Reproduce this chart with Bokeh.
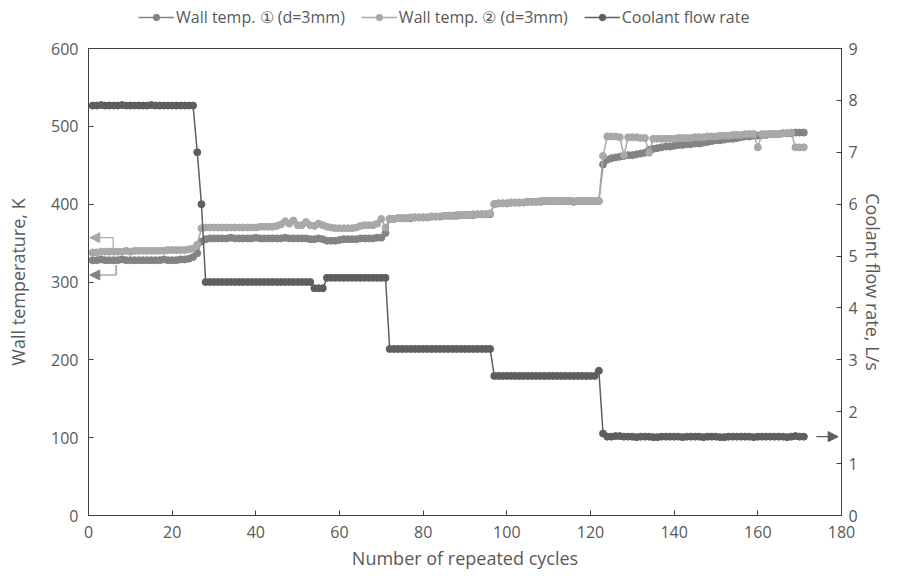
from bokeh.plotting import figure
from bokeh.layouts import column
from bokeh.models import (Range1d, LinearAxis, Legend, LegendItem, Arrow,
                          NormalHead, FixedTicker)
from bokeh.embed import file_html
from bokeh.resources import INLINE

# ---------------- data ----------------
cycles = list(range(1, 172))

wall_temp_1 = [
    328, 328, 329, 328, 328, 328, 328, 329, 328, 328,
    328, 328, 328, 328, 328, 328, 328, 329, 328, 328,
    328, 329, 329, 330, 332, 337, 352, 355, 356, 356,
    356, 356, 356, 357, 356, 356, 356, 356, 356, 357,
    356, 356, 356, 356, 356, 356, 357, 356, 356, 356,
    356, 356, 355, 355, 356, 355, 353, 353, 353, 354,
    355, 355, 355, 355, 356, 356, 356, 356, 357, 357,
    363, 381, 381, 382, 382, 382, 382, 383, 383, 383,
    383, 384, 384, 384, 385, 385, 385, 385, 386, 386,
    386, 386, 387, 387, 387, 387, 400, 401, 401, 401,
    402, 402, 402, 402, 403, 403, 403, 403, 404, 404,
    404, 404, 404, 404, 404, 403, 404, 404, 404, 404,
    404, 404, 451, 457, 459, 460, 461, 462, 463, 463,
    464, 465, 466, 470, 471, 472, 473, 474, 474, 475,
    476, 476, 477, 477, 478, 478, 479, 480, 481, 482,
    482, 483, 484, 484, 485, 486, 487, 487, 488, 488,
    489, 489, 490, 490, 490, 491, 491, 491, 492, 492,
    492,
]

wall_temp_2 = [
    338, 338, 339, 339, 339, 339, 339, 339, 340, 339,
    340, 340, 340, 340, 340, 340, 340, 340, 341, 341,
    341, 341, 341, 342, 343, 348, 369, 370, 370, 370,
    370, 370, 370, 370, 370, 370, 370, 370, 370, 370,
    371, 371, 371, 371, 372, 374, 378, 375, 379, 373,
    373, 377, 373, 372, 375, 373, 371, 370, 369, 369,
    369, 369, 369, 370, 372, 373, 373, 373, 375, 381,
    370, 381, 381, 382, 382, 382, 383, 383, 383, 383,
    383, 384, 384, 384, 385, 385, 385, 386, 386, 386,
    386, 387, 387, 387, 387, 388, 400, 401, 401, 401,
    402, 402, 402, 402, 403, 403, 403, 404, 404, 404,
    404, 404, 404, 404, 404, 404, 404, 404, 404, 404,
    404, 404, 462, 487, 487, 487, 486, 463, 486, 486,
    486, 485, 485, 466, 484, 484, 484, 484, 484, 484,
    485, 485, 485, 485, 486, 486, 486, 487, 487, 487,
    488, 488, 488, 489, 489, 489, 490, 490, 490, 473,
    490, 490, 490, 490, 490, 491, 491, 492, 473, 473,
    473,
]

coolant_flow = [
    7.90, 7.90, 7.91, 7.90, 7.90, 7.90, 7.90, 7.91, 7.90, 7.90,
    7.90, 7.90, 7.90, 7.90, 7.91, 7.90, 7.90, 7.90, 7.90, 7.90,
    7.90, 7.90, 7.90, 7.90, 7.90, 7.00, 6.00, 4.50, 4.50, 4.50,
    4.50, 4.50, 4.50, 4.50, 4.50, 4.50, 4.50, 4.50, 4.50, 4.50,
    4.50, 4.50, 4.50, 4.50, 4.50, 4.50, 4.50, 4.50, 4.50, 4.50,
    4.50, 4.50, 4.50, 4.38, 4.38, 4.38, 4.58, 4.58, 4.58, 4.58,
    4.58, 4.58, 4.58, 4.58, 4.58, 4.58, 4.58, 4.58, 4.58, 4.58,
    4.58, 3.21, 3.21, 3.21, 3.21, 3.21, 3.21, 3.21, 3.21, 3.21,
    3.21, 3.21, 3.21, 3.21, 3.21, 3.21, 3.21, 3.21, 3.21, 3.21,
    3.21, 3.21, 3.21, 3.21, 3.21, 3.21, 2.69, 2.69, 2.69, 2.69,
    2.69, 2.69, 2.69, 2.69, 2.69, 2.69, 2.69, 2.69, 2.69, 2.69,
    2.69, 2.69, 2.69, 2.69, 2.69, 2.69, 2.69, 2.69, 2.69, 2.69,
    2.69, 2.79, 1.58, 1.52, 1.52, 1.53, 1.53, 1.52, 1.52, 1.52,
    1.51, 1.52, 1.52, 1.52, 1.51, 1.51, 1.52, 1.52, 1.52, 1.52,
    1.52, 1.51, 1.52, 1.52, 1.52, 1.52, 1.51, 1.52, 1.52, 1.52,
    1.51, 1.51, 1.52, 1.52, 1.52, 1.52, 1.52, 1.52, 1.51, 1.52,
    1.52, 1.52, 1.52, 1.52, 1.52, 1.52, 1.51, 1.52, 1.53, 1.52,
    1.52,
]

x_ticks = [0, 20, 40, 60, 80, 100, 120, 140, 160, 180]
temp_ticks = [0, 100, 200, 300, 400, 500, 600]
flow_ticks = [0, 1, 2, 3, 4, 5, 6, 7, 8, 9]

labels = ["Wall temp. \u2460 (d=3mm)", "Wall temp. \u2461 (d=3mm)", "Coolant flow rate"]

# ---------------- style ----------------
FONT = "Open Sans"
C1 = "#838383"
C2 = "#a8a8a8"
C3 = "#5e5e5e"
AX = "#404040"
TXT = "#595959"
W = 887

# ---------------- legend strip (separate small figure, frame aligned with chart) ----
leg = figure(width=W, height=30, output_backend="svg", toolbar_location=None,
             x_range=Range1d(0, 1), y_range=Range1d(0, 1),
             x_axis_location=None, y_axis_location=None, min_border=0)
leg.xgrid.visible = False
leg.ygrid.visible = False
leg.outline_line_color = None
lr = []
for series, c in ((wall_temp_1, C1), (wall_temp_2, C2), (coolant_flow, C3)):
    # series lie far outside this strip's 0..1 range, so only the legend swatches show
    a = leg.line(cycles, series, color=c, line_width=1.5)
    b = leg.scatter(cycles, series, size=7, color=c)
    lr.append([a, b])
legend = Legend(items=[LegendItem(label=labels[i], renderers=lr[i]) for i in range(3)],
                orientation="horizontal", location=(50, 2),
                border_line_color=None, background_fill_alpha=0,
                label_text_font=FONT, label_text_font_size="16px",
                label_text_color=TXT, glyph_width=36, glyph_height=16,
                label_standoff=2, spacing=16, padding=2, margin=0)
leg.add_layout(legend, "center")

# ---------------- main chart ----------------
p = figure(width=W, height=542,
           output_backend="svg", toolbar_location=None,
           x_range=Range1d(0, 180), y_range=Range1d(0, 600),
           min_border_left=88, min_border_right=44,
           min_border_top=18, min_border_bottom=56)
p.extra_y_ranges = {"flow": Range1d(0, 9)}

p.xgrid.visible = False
p.ygrid.visible = False
p.outline_line_color = AX
p.background_fill_color = "white"
p.border_fill_color = "white"

p.xaxis.ticker = FixedTicker(ticks=x_ticks)
p.yaxis.ticker = FixedTicker(ticks=temp_ticks)
p.xaxis.axis_label = "Number of repeated cycles"
p.yaxis.axis_label = "Wall temperature, K"

right_axis = LinearAxis(y_range_name="flow", ticker=FixedTicker(ticks=flow_ticks),
                        axis_label="Coolant flow rate, L/s")
p.add_layout(right_axis, "right")

for ax in [p.xaxis[0], p.yaxis[0], right_axis]:
    ax.axis_line_color = AX
    ax.major_tick_line_color = AX
    ax.major_tick_in = 5
    ax.major_tick_out = 0
    ax.minor_tick_line_color = None
    ax.major_label_text_color = TXT
    ax.major_label_text_font = FONT
    ax.major_label_text_font_size = "16px"
    ax.axis_label_text_color = TXT
    ax.axis_label_text_font = FONT
    ax.axis_label_text_font_size = "18px"
    ax.axis_label_text_font_style = "normal"
    ax.major_label_standoff = 10

p.yaxis[0].axis_label_standoff = 18
right_axis.major_label_standoff = 7
right_axis.axis_label_standoff = 0
p.xaxis[0].axis_label_standoff = 5

# ---------------- series ----------------
l1 = p.line(cycles, wall_temp_1, color=C1, line_width=1.5)
s1 = p.scatter(cycles, wall_temp_1, size=7, color=C1)
l2 = p.line(cycles, wall_temp_2, color=C2, line_width=1.5)
s2 = p.scatter(cycles, wall_temp_2, size=7, color=C2)
l3 = p.line(cycles, coolant_flow, color=C3, line_width=1.5, y_range_name="flow")
s3 = p.scatter(cycles, coolant_flow, size=7, color=C3, y_range_name="flow")

# ---------------- arrows (axis indicators) ----------------
p.line([5.9, 5.9, 1.5], [343, 357, 357], color=C2, line_width=1.2)
p.add_layout(Arrow(end=NormalHead(size=10, fill_color=C2, line_color=C2),
                   x_start=3, y_start=357, x_end=0.3, y_end=357,
                   line_color=C2, line_width=1.2))
p.line([6.6, 6.6, 1.5], [322, 309, 309], color=C1, line_width=1.2)
p.add_layout(Arrow(end=NormalHead(size=10, fill_color=C1, line_color=C1),
                   x_start=3, y_start=309, x_end=0.3, y_end=309,
                   line_color=C1, line_width=1.2))
p.add_layout(Arrow(end=NormalHead(size=10, fill_color=C3, line_color=C3),
                   x_start=174, y_start=1.52, x_end=179.2, y_end=1.52,
                   line_color=C3, line_width=1.2, y_range_name="flow"))

open("out.html", "w").write(file_html(column(leg, p, spacing=0), INLINE))
